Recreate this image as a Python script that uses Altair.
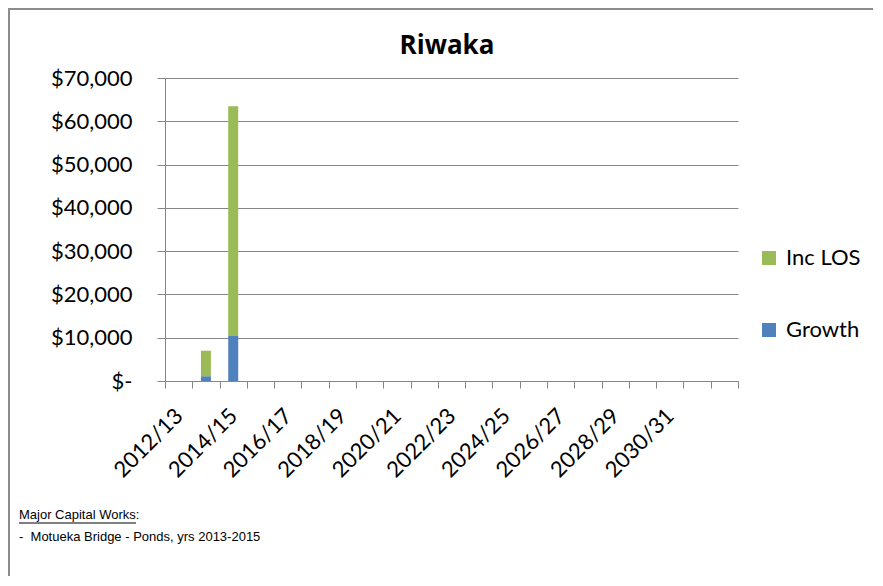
import altair as alt
import pandas as pd

years = ["2012/13", "2013/14", "2014/15", "2015/16", "2016/17", "2017/18", "2018/19",
         "2019/20", "2020/21", "2021/22", "2022/23", "2023/24", "2024/25", "2025/26",
         "2026/27", "2027/28", "2028/29", "2029/30", "2030/31", "2031/32", "2032/33"]
growth = [0, 1100, 10400] + [0] * 18
inc_los = [0, 5900, 53100] + [0] * 18
series = ["Inc LOS", "Growth"]
colors = ["#9BBB59", "#4F81BD"]
title_text = "Riwaka"
footer_title = "Major Capital Works:"
footer_line = "-\u00a0\u00a0Motueka Bridge - Ponds, yrs 2013-2015"

rows = []
for i, y in enumerate(years):
    rows.append({"year": y, "series": "Growth", "value": growth[i], "ord": 0})
    rows.append({"year": y, "series": "Inc LOS", "value": inc_los[i], "ord": 1})
df = pd.DataFrame(rows)

W, H = 573, 303
FONT = "Lato"

label_expr = ("indexof(" + str(years) + ", datum.value) % 2 == 0 && datum.value != '"
              + years[-1] + "' ? datum.value : ''")

bars = alt.Chart(df).mark_bar(size=10).encode(
    x=alt.X("year:N", sort=years, scale=alt.Scale(paddingInner=0, paddingOuter=0),
            axis=alt.Axis(title=None, labelAngle=-45, labelFontSize=22, labelFont=FONT,
                          labelColor="#000", labelExpr=label_expr, labelOverlap=False,
                          tickBand="extent", tickSize=7, tickColor="#868686",
                          domainColor="#868686", labelPadding=17, labelOffset=-7)),
    y=alt.Y("value:Q", stack="zero", scale=alt.Scale(domain=[0, 70000], nice=False),
            axis=alt.Axis(title=None, values=list(range(0, 70001, 10000)),
                          labelExpr="datum.value == 0 ? '$-\u00a0\u00a0' : '$' + format(datum.value, ',')",
                          labelFontSize=22, labelFont=FONT, labelColor="#000",
                          tickSize=8, tickColor="#868686", domainColor="#868686",
                          gridColor="#868686", gridWidth=1, labelPadding=25)),
    color=alt.Color("series:N", scale=alt.Scale(domain=series, range=colors),
                    legend=alt.Legend(title=None, orient="none", legendX=593, legendY=169,
                                      symbolType="square", symbolSize=196,
                                      symbolStrokeWidth=0, labelFontSize=22,
                                      labelFont=FONT, labelColor="#000",
                                      rowPadding=50, labelOffset=6)),
    order=alt.Order("ord:Q"),
)

ttl = alt.Chart(pd.DataFrame({"t": [title_text]})).mark_text(
    fontSize=26, font="Open Sans", fontWeight="bold", color="#000", align="center",
    baseline="middle").encode(text="t:N", x=alt.value(282), y=alt.value(-32))

ftxt = pd.DataFrame({"t": [footer_title, footer_line], "yy": [437, 459]})
footer = alt.Chart(ftxt).mark_text(align="left", baseline="middle", fontSize=13,
                                   font="Liberation Sans",
                                   color="#000").encode(
    text="t:N", x=alt.value(-146), y=alt.Y("yy:Q", scale=None))

underline = alt.Chart(pd.DataFrame({"a": [0]})).mark_rule(color="#000", strokeWidth=1).encode(
    x=alt.value(-146), x2=alt.value(-29), y=alt.value(445))

border_top = alt.Chart(pd.DataFrame({"a": [0]})).mark_rule(color="#8c8c8c", strokeWidth=2).encode(
    x=alt.value(-157), x2=alt.value(710), y=alt.value(-69))
border_left = alt.Chart(pd.DataFrame({"a": [0]})).mark_rule(color="#8c8c8c", strokeWidth=2).encode(
    x=alt.value(-156), y=alt.value(-70), y2=alt.value(500))

chart = alt.layer(bars, ttl, footer, underline, border_top, border_left).properties(
    width=W, height=H,
    autosize=alt.AutoSizeParams(type="none"),
    padding={"left": 157, "top": 70, "right": 135, "bottom": 195},
).configure_view(stroke=None).configure_axis(grid=False).configure_axisY(grid=True)

chart.save("out.html", embed_options={"renderer": "svg", "actions": False})
